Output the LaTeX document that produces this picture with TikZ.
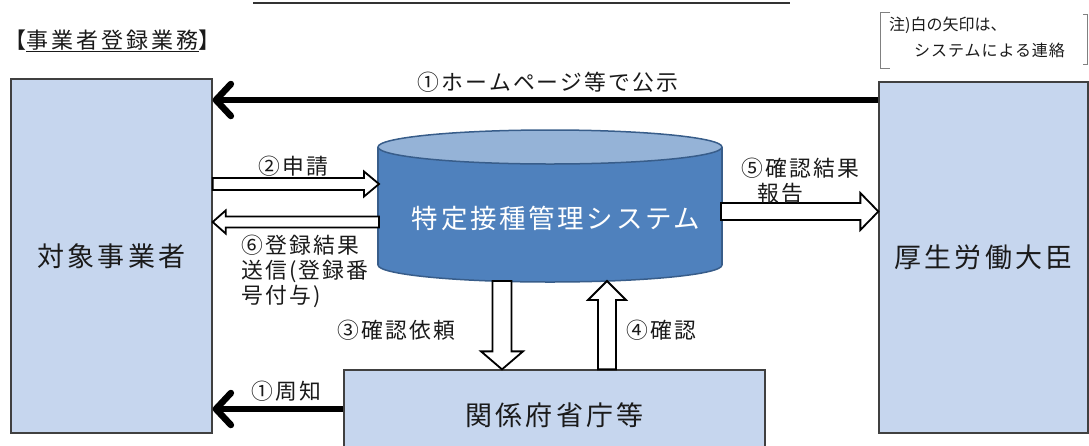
\documentclass[tikz,border=0pt]{standalone}
\usepackage{fontspec}
\setmainfont{Noto Sans CJK JP}
\newfontfamily\jplab[LetterSpace=10]{Noto Sans CJK JP}
\newfontfamily\jphdr[LetterSpace=14]{Noto Sans CJK JP}
\newfontfamily\jpbig[LetterSpace=12]{Noto Sans CJK JP}
\newfontfamily\jpcyl[LetterSpace=10]{Noto Sans CJK JP}
\newfontfamily\jpnote[LetterSpace=6]{Noto Sans CJK JP}
\newfontfamily\jpnotetight{Noto Sans CJK JP}
\newcommand\mylabfont{\jplab\fontsize{21.8}{25}\selectfont}
\newcommand\myhdrfont{\jphdr\fontsize{22}{25}\selectfont}
\newcommand\mybigfont{\jpbig\fontsize{27}{30}\selectfont}
\newcommand\mycylfont{\jpcyl\fontsize{26.5}{30}\selectfont}
\newcommand\mynotefont{\jpnote\fontsize{16}{20}\selectfont}
\newcommand\mynotetightfont{\jpnotetight\fontsize{16}{20}\selectfont}
\usetikzlibrary{arrows.meta,calc}
\definecolor{boxfill}{HTML}{C6D6EE}
\definecolor{boxline}{HTML}{404040}
\definecolor{cylbody}{HTML}{4F81BD}
\definecolor{cyltop}{HTML}{95B3D7}
\definecolor{cylline}{HTML}{385D8A}
\definecolor{txt}{HTML}{1A1A1A}
\newcommand\blockarr[5]{%
  \coordinate (ba-h) at ($(#2)!#5!(#1)$);
  \draw[hollow] ($(#1)!#3!90:(#2)$) -- ($(ba-h)!#3!90:(#2)$) -- ($(ba-h)!#4!90:(#2)$) -- (#2)
    -- ($(ba-h)!#4!-90:(#2)$) -- ($(ba-h)!#3!-90:(#2)$) -- ($(#1)!#3!-90:(#2)$) -- cycle;}
\begin{document}
\begin{tikzpicture}[x=1pt,y=-1pt,
  box/.style={draw=boxline,line width=1.3pt,fill=boxfill,inner sep=0pt,text=txt,font=\mybigfont},
  lab/.style={inner sep=0pt,text=txt,font=\mylabfont},
  pubarrow/.style={line width=6.5pt,-{Straight Barb[length=15pt,width=32pt,round]}},
  hollow/.style={draw=black,line width=1.8pt,fill=white,line join=miter}]
\useasboundingbox (0,0) rectangle (1089,445);
% title underline (title itself is cut off)
\draw[line width=2pt,black!80] (253,3) -- (790,3);
% header
\node[inner sep=0pt,text=txt,font=\myhdrfont,anchor=west] (hdr) at (4,41) {【\underline{事業者登録業務}】};
% note
\draw[gray,line width=1pt] (890,12) -- (880,12) -- (880,68) -- (890,68);
\draw[gray,line width=1pt] (1083,14) -- (1087,14) -- (1087,64) -- (1083,64);
\node[inner sep=0pt,text=txt,font=\mynotetightfont,anchor=west] (note1) at (889,25) {注)白の矢印は、};
\node[inner sep=0pt,text=txt,font=\mynotefont,anchor=west] (note2) at (914,50) {システムによる連絡};
% boxes
\node[box,minimum width=201pt,minimum height=354pt] (L) at (111.5,256) {対象事業者};
\node[box,minimum width=209pt,minimum height=351pt] (R) at (983.5,257.5) {厚生労働大臣};
\node[box,minimum width=421pt,minimum height=90pt] (B) at (554.5,415) {関係府省庁等};
% cylinder
\fill[cylbody] (378,147) rectangle (722,265);
\fill[cylbody] (550,265) ellipse [x radius=172, y radius=17];
\begin{scope}
  \clip (370,265) rectangle (730,295);
  \draw[cylline,line width=1.5pt] (550,265) ellipse [x radius=172, y radius=17];
\end{scope}
\draw[cylline,line width=1.5pt] (378,147) -- (378,265) (722,147) -- (722,265);
\draw[cylline,line width=1.5pt,fill=cyltop] (550,147) ellipse [x radius=172, y radius=17];
\node[text=white,font=\mycylfont,inner sep=0pt] (S) at (556,218) {特定接種管理システム};
% helper coordinates
\coordinate (yPub) at (0,100);
\coordinate (yNot) at (0,409);
\coordinate (yApp) at (0,184);
\coordinate (yRes) at (0,222);
\coordinate (yRep) at (0,211.5);
\coordinate (x3) at (502,0);
\coordinate (x4) at (607,0);
\coordinate (a2e) at (379,184);
\coordinate (a6s) at (379,222);
\coordinate (a5s) at (721,211.5);
\coordinate (a3s) at (502,281);
\coordinate (a4e) at (607,281);
% black arrows
\draw[pubarrow] (R.west |- yPub) -- (L.east |- yPub);
\node[lab] (lPub) at (548,82) {①ホームページ等で公示};
\draw[pubarrow] (B.west |- yNot) -- (L.east |- yNot);
\node[lab] (lNot) at (286,391) {①周知};
% hollow arrows
\coordinate (a2s) at (L.east |- yApp);
\blockarr{a2s}{a2e}{6pt}{12.5pt}{15pt}
\node[lab] (l2) at (293,166) {②申請};
\coordinate (a6e) at (L.east |- yRes);
\blockarr{a6s}{a6e}{5.5pt}{11.5pt}{13pt}
\node[lab,align=left,anchor=west] (l6) at (241,271) {⑥登録結果\\送信(登録番\\号付与)};
\coordinate (a5e) at (R.west |- yRep);
\blockarr{a5s}{a5e}{8.5pt}{18.5pt}{18pt}
\node[lab,align=left,anchor=west] (l5) at (741,180.5) {⑤確認結果\\\hspace*{16pt}報告};
\coordinate (a3e) at (B.north -| x3);
\blockarr{a3s}{a3e}{9.5pt}{21pt}{18pt}
\node[lab] (l3) at (396,330) {③確認依頼};
\coordinate (a4s) at (B.north -| x4);
\blockarr{a4s}{a4e}{9pt}{19pt}{19pt}
\node[lab,anchor=west] (l4) at (626,330) {④確認};
\end{tikzpicture}
\end{document}
